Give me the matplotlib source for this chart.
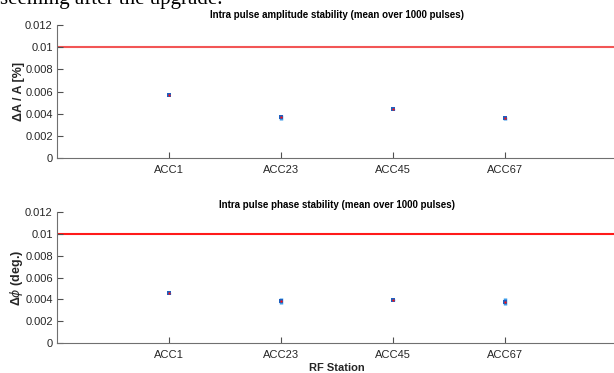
import matplotlib
matplotlib.use("Agg")
import matplotlib.pyplot as plt
import numpy as np
from matplotlib.ticker import FuncFormatter

stations = ["ACC1", "ACC23", "ACC45", "ACC67"]
amp_mean = [0.00568, 0.00366, 0.00439, 0.00358]
amp_err = [0.00003, 0.00020, 0.00004, 0.00012]
phase_mean = [0.00456, 0.00386, 0.00392, 0.00380]
phase_err = [0.00003, 0.00030, 0.00010, 0.00030]
limit = 0.01
yticks = [0, 0.002, 0.004, 0.006, 0.008, 0.010, 0.012]

plt.rcParams['font.family'] = ['Liberation Sans', 'DejaVu Sans']

fig = plt.figure(figsize=(6.14, 3.73), dpi=100)
fig.text(0.0, 1 - 4 / 373, "seeming after the upgrade.", family=['Liberation Serif'],
         fontsize=15, va='baseline', ha='left', color='black')

ax1 = fig.add_axes([57 / 614, 1 - 158 / 373, 560 / 614, 133 / 373])
ax2 = fig.add_axes([57 / 614, 1 - 343.3 / 373, 560 / 614, 131.6 / 373])

xpos = np.arange(1, len(stations) + 1)

def style(ax, means, errs, title, ylabel, lcolor, ylfs):
    ax.axhline(limit, color=lcolor, lw=1.5, zorder=1)
    ax.errorbar(xpos, means, yerr=errs, fmt='none', ecolor='#3a9ae8', elinewidth=2.5,
                capsize=0, zorder=2)
    ax.plot(xpos, means, 's', color='#1f5fbf', ms=2.5, zorder=3, mew=0)
    ax.plot(xpos, means, 'o', color='#ff1010', ms=1.6, zorder=4, mew=0)
    ax.set_xlim(0, 5)
    ax.set_ylim(0, 0.012)
    ax.set_xticks(xpos)
    ax.set_xticklabels(stations)
    ax.set_yticks(yticks)
    ax.yaxis.set_major_formatter(FuncFormatter(lambda v, p: "%g" % round(v, 4)))
    for s in ['top', 'right']:
        ax.spines[s].set_visible(False)
    for s in ['left', 'bottom']:
        ax.spines[s].set_color('#707070')
        ax.spines[s].set_linewidth(0.8)
    ax.tick_params(direction='in', length=4, width=0.8, color='#505050',
                   labelsize=8, labelcolor='#262626', pad=3)
    ax.tick_params(axis='x', pad=5)
    ax.set_title(title, fontsize=7, fontweight='bold', color='black', pad=5)
    ax.set_ylabel(ylabel, fontsize=ylfs, fontweight='bold', color='#262626')
    ax.yaxis.set_label_coords(-0.058, 0.5)

style(ax1, amp_mean, amp_err, "Intra pulse amplitude stability (mean over 1000 pulses)",
      "ΔA / A [%]", '#f25555', 9)
style(ax2, phase_mean, phase_err, "Intra pulse phase stability (mean over 1000 pulses)",
      r"Δ$\phi$ (deg.)", '#ff1a1a', 9)
ax2.set_title(ax2.get_title(), fontsize=7, fontweight='bold', pad=3)
ax2.set_xlabel("RF Station", fontsize=8, fontweight='bold', color='#262626', labelpad=2)

fig.savefig("out.png", dpi=100)
